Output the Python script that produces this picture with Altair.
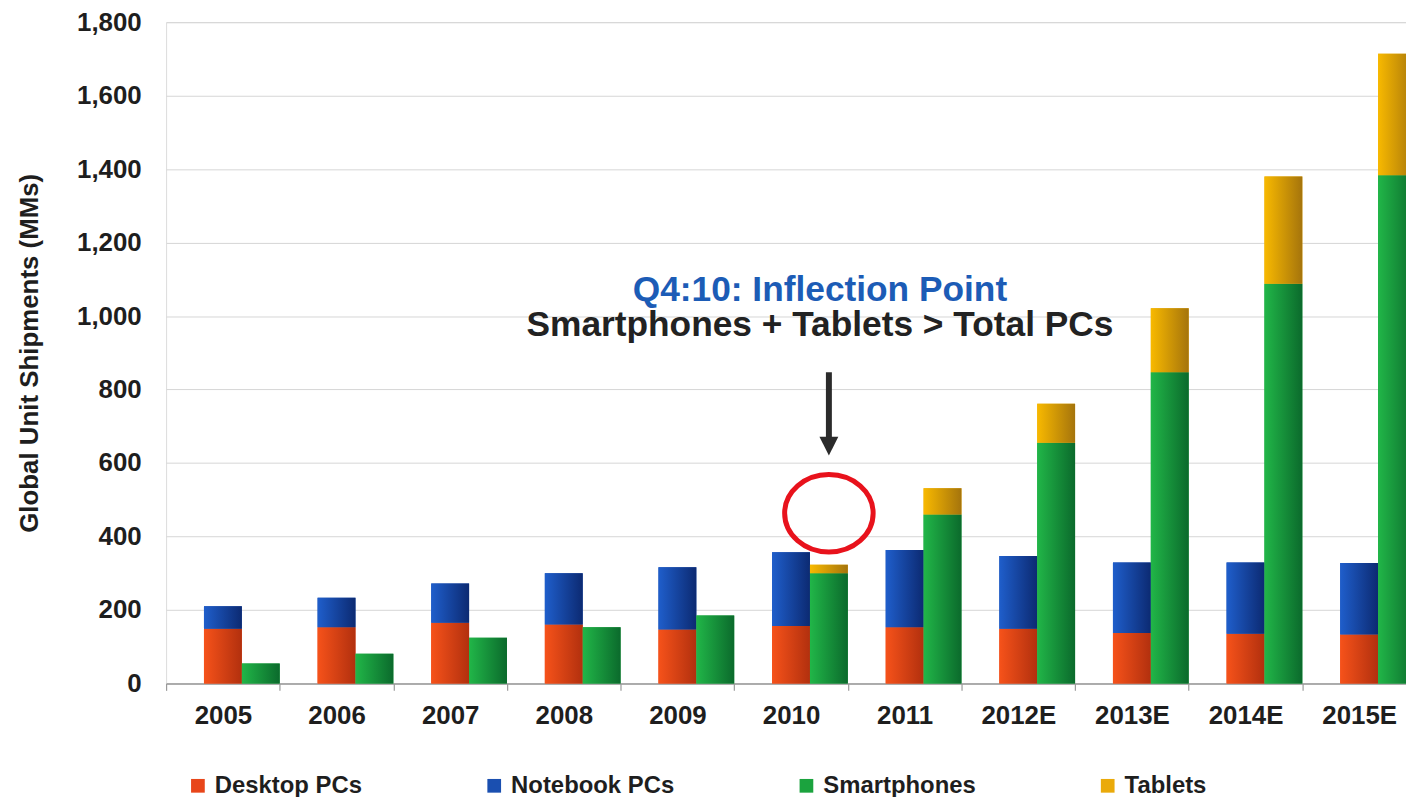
import altair as alt
import pandas as pd

# ---------------- data ----------------
years = ["2005", "2006", "2007", "2008", "2009", "2010", "2011",
         "2012E", "2013E", "2014E", "2015E"]
desktop_pcs = [149, 153, 165, 160, 147, 156, 153, 149, 137, 135, 133]
notebook_pcs = [61, 80, 107, 140, 169, 201, 210, 198, 192, 194, 195]
smartphones = [54, 81, 124, 153, 185, 300, 460, 655, 847, 1088, 1383]
tablets = [0, 0, 0, 0, 0, 23, 71, 106, 174, 292, 331]

series_names = ["Desktop PCs", "Notebook PCs", "Smartphones", "Tablets"]
series_groups = ["PC", "PC", "Mobile", "Mobile"]
series_order = [0, 1, 0, 1]
series_values = [desktop_pcs, notebook_pcs, smartphones, tablets]
legend_colors = ["#e8461a", "#1a4fb0", "#1ba33e", "#eaaa0a"]
grad_light = ["#f6521a", "#1f5ecb", "#21b648", "#f8b900"]
grad_dark = ["#b2300e", "#0c2a72", "#0b6a2c", "#a5740c"]

offset_slots = ["gap", "PC", "Mobile"]
y_ticks = [0, 200, 400, 600, 800, 1000, 1200, 1400, 1600, 1800]

ann_year = "2010"
ann_group = "Mobile"
ann_texts = ["Q4:10: Inflection Point", "Smartphones + Tablets > Total PCs"]
ann_values = [1042, 945]
ann_colors = ["#1c5cb6", "#222222"]
arrow_top = 847
arrow_end = 668
arrow_head = 646
circle_value = 463

FONT = "Liberation Sans"

rows = []
for name, grp, order, vals in zip(series_names, series_groups, series_order, series_values):
    for yr, v in zip(years, vals):
        rows.append({"year": yr, "group": grp, "series": name, "order": order, "value": v})
df = pd.DataFrame(rows)

ann_df = pd.DataFrame({"year": [ann_year] * len(ann_texts), "group": [ann_group] * len(ann_texts),
                       "text": ann_texts, "value": ann_values, "color": ann_colors})
arrow_df = pd.DataFrame({"year": [ann_year], "group": [ann_group],
                         "top": [arrow_top], "end": [arrow_end], "head": [arrow_head],
                         "circle": [circle_value]})

# ---------------- encodings ----------------
x_enc = alt.X(
    "year:N",
    sort=years,
    scale=alt.Scale(domain=years, range=[0, 1257], paddingInner=0, paddingOuter=0),
    axis=alt.Axis(
        title=None, labelAngle=0, labelFont=FONT, labelFontSize=26, labelFontWeight="bold",
        labelColor="#1e1e1e", labelPadding=12, tickSize=7, tickBand="extent",
        tickColor="#9a9a9a", tickWidth=1.2, domainColor="#9a9a9a", domainWidth=1.5,
        grid=False, labelLimit=300,
    ),
)
xo_enc = alt.XOffset("group:N", scale=alt.Scale(domain=offset_slots, paddingInner=0, paddingOuter=0))
y_scale = alt.Scale(domain=[0, 1800], nice=False, zero=True)
y_axis = alt.Axis(
    title="Global Unit Shipments (MMs)", values=y_ticks, format=",d",
    labelFont=FONT, labelFontSize=26, labelFontWeight="bold", labelColor="#1e1e1e",
    labelPadding=25, ticks=False, domain=False, grid=True, gridColor="#d6d6d6", gridWidth=1,
    titleFont=FONT, titleFontSize=26, titleFontWeight="bold", titleColor="#1e1e1e",
    titlePadding=34,
)

base = alt.Chart(df).transform_stack(
    stack="value", groupby=["year", "group"], as_=["v0", "v1"],
    sort=[alt.SortField("order", order="ascending")],
)

solid = base.mark_bar(strokeWidth=0).encode(
    x=x_enc, xOffset=xo_enc,
    y=alt.Y("v0:Q", scale=y_scale, axis=y_axis),
    y2="v1:Q",
    color=alt.Color(
        "series:N",
        scale=alt.Scale(domain=series_names, range=legend_colors),
        legend=alt.Legend(
            title=None, orient="none", direction="horizontal", legendX=20, legendY=756,
            symbolType="square", symbolSize=190, symbolStrokeWidth=0, labelOffset=5,
            columnPadding=120, labelFont=FONT, labelFontSize=24, labelFontWeight="bold",
            labelColor="#1e1e1e", padding=0, labelLimit=400,
        ),
    ),
)

layers = [solid]
for name, lo, hi in zip(series_names, grad_light, grad_dark):
    layers.append(
        base.transform_filter(alt.datum.series == name).mark_bar(
            strokeWidth=0,
            color=alt.Gradient(
                gradient="linear",
                stops=[alt.GradientStop(color=lo, offset=0), alt.GradientStop(color=hi, offset=1)],
                x1=0, x2=1, y1=0, y2=0,
            ),
        ).encode(x=x_enc, xOffset=xo_enc, y=alt.Y("v0:Q", scale=y_scale, axis=y_axis), y2="v1:Q")
    )

for i in range(len(ann_texts)):
    layers.append(
        alt.Chart(ann_df.iloc[[i]]).mark_text(
            font=FONT, fontSize=35.5, fontWeight="bold", align="center", baseline="alphabetic",
            dx=-9, color=ann_colors[i],
        ).encode(x=x_enc, xOffset=xo_enc, y=alt.Y("value:Q", scale=y_scale, axis=y_axis), text="text:N")
    )

arrow_base = alt.Chart(arrow_df)
layers.append(
    arrow_base.mark_rule(color="#2b2b2b", strokeWidth=6).encode(
        x=x_enc, xOffset=xo_enc, y=alt.Y("top:Q", scale=y_scale, axis=y_axis), y2="end:Q")
)
layers.append(
    arrow_base.mark_point(shape="M -1 -1 L 1 -1 L 0 1 Z", size=361, filled=True,
                          color="#2b2b2b", opacity=1).encode(
        x=x_enc, xOffset=xo_enc, y=alt.Y("head:Q", scale=y_scale, axis=y_axis))
)
ellipse_path = ("M 1 0 C 1 0.4838 0.5523 0.876 0 0.876 C -0.5523 0.876 -1 0.4838 -1 0 "
                "C -1 -0.4838 -0.5523 -0.876 0 -0.876 C 0.5523 -0.876 1 -0.4838 1 0 Z")
layers.append(
    arrow_base.mark_point(shape=ellipse_path, size=89 * 89, filled=False, color="#e8121c",
                          strokeWidth=5, opacity=1).encode(
        x=x_enc, xOffset=xo_enc, y=alt.Y("circle:Q", scale=y_scale, axis=y_axis))
)

chart = alt.layer(*layers).properties(
    width=1247, height=665,
    autosize=alt.AutoSizeParams(type="none"),
    padding={"left": 159, "top": 12, "right": 0, "bottom": 112},
).configure_view(stroke=None).configure(font=FONT)

chart.save("out.html", embed_options={"renderer": "svg", "actions": False})
